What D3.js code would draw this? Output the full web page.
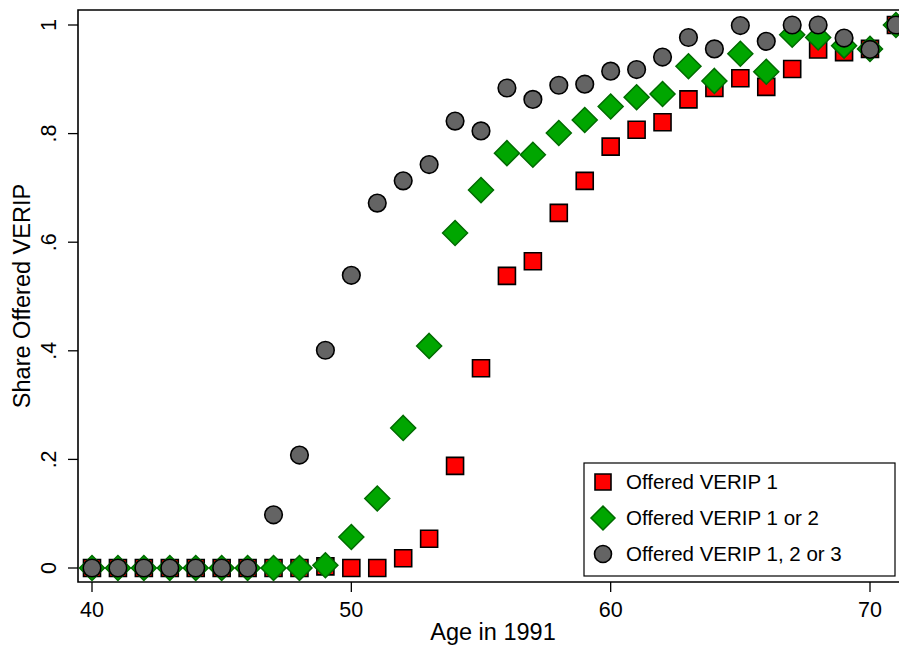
<!DOCTYPE html>
<html><head><meta charset="utf-8">
<script src="https://cdn.jsdelivr.net/npm/d3@7"></script>
<style>html,body{margin:0;padding:0;background:#fff;} svg{display:block;font-family:"Liberation Sans",Arial,sans-serif;}</style>
</head><body>
<svg id="c" width="899" height="647"></svg>
<script>
const ages = d3.range(40, 72);
const verip1 = [0,0,0,0,0,0,0,0,0,0.003,0.0,0.0,0.018,0.054,0.188,0.368,0.538,0.565,0.654,0.713,0.776,0.807,0.821,0.863,0.884,0.902,0.886,0.919,0.955,0.950,0.956,1.0];
const verip12 = [0,0,0,0,0,0,0,0,0,0.005,0.057,0.128,0.258,0.409,0.617,0.696,0.764,0.761,0.801,0.825,0.850,0.867,0.873,0.924,0.897,0.947,0.914,0.982,0.977,0.962,0.956,1.0];
const verip123 = [0,0,0,0,0,0,0,0.098,0.208,0.401,0.539,0.672,0.713,0.743,0.823,0.805,0.884,0.863,0.889,0.891,0.915,0.918,0.941,0.977,0.956,0.999,0.970,1.0,1.0,0.976,0.955,1.0];
const yTicks = [0,0.2,0.4,0.6,0.8,1];
const yTickLabels = ["0",".2",".4",".6",".8","1"];
const xTicks = [40,50,60,70];
const legendLabels = ["Offered VERIP 1","Offered VERIP 1 or 2","Offered VERIP 1, 2 or 3"];

const svg = d3.select("#c");
const x = d3.scaleLinear().domain([40,70]).range([92,870]);
const y = d3.scaleLinear().domain([0,1]).range([568,25]);
const L = 78, T = 10, B = 582, R = 902;

svg.append("path").attr("d",`M${R},${T}H${L}V${B}H${R}`).attr("fill","none").attr("stroke","#000").attr("stroke-width",1.6);

const ya = svg.append("g");
yTicks.forEach((t,i)=>{
  ya.append("line").attr("x1",L).attr("x2",L-10).attr("y1",y(t)).attr("y2",y(t)).attr("stroke","#000").attr("stroke-width",1.3);
  ya.append("text").attr("transform",`translate(56,${y(t)}) rotate(-90)`).attr("text-anchor","middle")
    .attr("font-size",21.5).text(yTickLabels[i]);
});
xTicks.forEach(t=>{
  svg.append("line").attr("x1",x(t)).attr("x2",x(t)).attr("y1",B).attr("y2",B+10).attr("stroke","#000").attr("stroke-width",1.3);
  svg.append("text").attr("x",x(t)).attr("y",617).attr("text-anchor","middle").attr("font-size",21.5).text(t);
});
svg.append("text").attr("x",493).attr("y",640).attr("text-anchor","middle").attr("font-size",23.5).text("Age in 1991");
svg.append("text").attr("transform","translate(30,296) rotate(-90)").attr("text-anchor","middle").attr("font-size",23.5).text("Share Offered VERIP");

const sq = (cx,cy,s)=>`M${cx-s},${cy-s}H${cx+s}V${cy+s}H${cx-s}Z`;
const dm = (cx,cy,s)=>`M${cx},${cy-s}L${cx+s},${cy}L${cx},${cy+s}L${cx-s},${cy}Z`;

const g = svg.append("g");
g.selectAll(".s1").data(ages).enter().append("path")
  .attr("d",(a,i)=>sq(x(a),y(verip1[i]),8.5)).attr("fill","#ff0000").attr("stroke","#000").attr("stroke-width",1.6);
g.selectAll(".s2").data(ages).enter().append("path")
  .attr("d",(a,i)=>dm(x(a),y(verip12[i]),12.5)).attr("fill","#00a600").attr("stroke","#006b00").attr("stroke-width",1.5);
g.selectAll(".s3").data(ages).enter().append("circle")
  .attr("cx",a=>x(a)).attr("cy",(a,i)=>y(verip123[i])).attr("r",8.8).attr("fill","#646464").attr("stroke","#000").attr("stroke-width",1.6);

const lg = svg.append("g");
lg.append("rect").attr("x",584).attr("y",463).attr("width",311).attr("height",113).attr("fill","#fff").attr("stroke","#000").attr("stroke-width",1.2);
const ly = [482,518,554];
lg.append("path").attr("d",sq(603,ly[0],8)).attr("fill","#ff0000").attr("stroke","#000").attr("stroke-width",1.6);
lg.append("path").attr("d",dm(603,ly[1],12)).attr("fill","#00a600").attr("stroke","#006b00").attr("stroke-width",1.5);
lg.append("circle").attr("cx",603).attr("cy",ly[2]).attr("r",8.5).attr("fill","#646464").attr("stroke","#000").attr("stroke-width",1.6);
legendLabels.forEach((t,i)=>{
  lg.append("text").attr("x",626).attr("y",ly[i]+7).attr("font-size",20.5).text(t);
});
</script>
</body></html>
